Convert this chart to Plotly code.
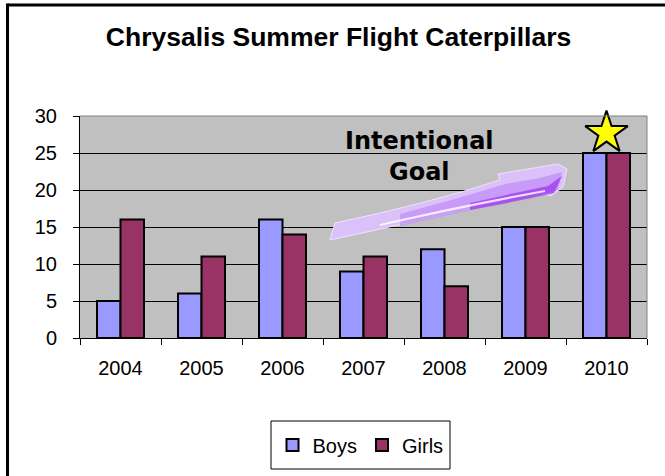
import plotly.graph_objects as go

categories = ["2004", "2005", "2006", "2007", "2008", "2009", "2010"]
boys = [5, 6, 16, 9, 12, 15, 25]
girls = [16, 11, 14, 11, 7, 15, 25]
y_ticks = [0, 5, 10, 15, 20, 25, 30]

W, H = 665, 476
L, R, T, B = 80, 18, 116, 138
PW, PH = W - L - R, H - T - B


def px(x):
    return (x - L) / PW


def py(y):
    return (H - B - y) / PH


def path(points):
    s = ""
    for cmd, pts in points:
        s += cmd + " ".join(f"{px(a):.4f},{py(b):.4f}" for a, b in pts) + " "
    return s + "Z"


FONT = "Liberation Sans, Arial, sans-serif"

fig = go.Figure()
fig.add_trace(go.Bar(x=categories, y=boys, name="Boys",
                     marker=dict(color="#9999ff", line=dict(color="black", width=2))))
fig.add_trace(go.Bar(x=categories, y=girls, name="Girls",
                     marker=dict(color="#993366", line=dict(color="black", width=2))))
# star above the goal year
fig.add_trace(go.Scatter(x=[categories[-1]], y=[boys[-1] + 2.7], mode="markers",
                         showlegend=False, hoverinfo="skip", cliponaxis=False,
                         marker=dict(symbol="star", size=32, color="#ffff00",
                                     line=dict(color="black", width=2))))

arrow = path([
    ("M", [(335, 223)]),
    ("Q", [(430, 203), (500, 180)]),
    ("L", [(498, 174)]),
    ("L", [(558, 164)]),
    ("L", [(567, 169)]),
    ("L", [(563, 187)]),
    ("L", [(551, 196)]),
    ("L", [(540, 192)]),
    ("Q", [(450, 214), (330, 240)]),
])
arrow_mid = path([
    ("M", [(400, 214)]),
    ("Q", [(460, 198), (505, 184)]),
    ("L", [(540, 178)]),
    ("L", [(562, 172)]),
    ("L", [(558, 190)]),
    ("L", [(545, 193)]),
    ("Q", [(470, 210), (400, 226)]),
])
arrow_hi = path([
    ("M", [(470, 203)]),
    ("Q", [(510, 194), (548, 186)]),
    ("L", [(562, 176)]),
    ("L", [(554, 193)]),
    ("Q", [(510, 203), (470, 210)]),
])
arrow_glint = path([
    ("M", [(380, 224)]),
    ("Q", [(460, 205), (545, 190)]),
    ("L", [(545, 192)]),
    ("Q", [(460, 208), (380, 226)]),
])

shapes = [
    dict(type="path", xref="paper", yref="paper", path=arrow,
         fillcolor="#dcc0fa", line=dict(color="#efe4fd", width=1), layer="above"),
    dict(type="path", xref="paper", yref="paper", path=arrow_mid,
         fillcolor="#c18cf6", line=dict(width=0), opacity=0.7, layer="above"),
    dict(type="path", xref="paper", yref="paper", path=arrow_hi,
         fillcolor="#9b30f0", line=dict(width=0), opacity=0.7, layer="above"),
    dict(type="path", xref="paper", yref="paper", path=arrow_glint,
         fillcolor="#ffffff", line=dict(width=0), opacity=0.8, layer="above"),
    # plot area border (top / right)
    dict(type="line", xref="paper", yref="paper", x0=0, x1=1, y0=1, y1=1,
         line=dict(color="#808080", width=1), layer="above"),
    dict(type="line", xref="paper", yref="paper", x0=1, x1=1, y0=0, y1=1,
         line=dict(color="#808080", width=1), layer="above"),
    # legend box
    dict(type="rect", xref="paper", yref="paper", x0=px(271), x1=px(450),
         y0=py(469), y1=py(421), line=dict(color="black", width=1), layer="above"),
    # outer chart border (left/top)
    dict(type="line", xref="paper", yref="paper", x0=px(7.5), x1=px(W),
         y0=py(5), y1=py(5), line=dict(color="black", width=3), layer="above"),
    dict(type="line", xref="paper", yref="paper", x0=px(7.5), x1=px(7.5),
         y0=py(3.5), y1=py(H), line=dict(color="black", width=3), layer="above"),
]

fig.update_layout(
    width=W, height=H,
    margin=dict(l=L, r=R, t=T, b=B, autoexpand=False),
    paper_bgcolor="white", plot_bgcolor="#c0c0c0",
    barmode="group", bargap=0.42, bargroupgap=0,
    font=dict(family=FONT, size=20, color="black"),
    title=dict(text="<b>Chrysalis Summer Flight Caterpillars</b>",
               font=dict(family=FONT, size=26.5, color="black"),
               x=338.5 / W, xanchor="center", xref="container",
               y=1 - 37 / H, yanchor="middle", yref="container"),
    xaxis=dict(type="category", range=[-0.5, len(categories) - 0.5],
               tickson="boundaries", ticks="outside", ticklen=6,
               tickcolor="black", showline=True, linecolor="black", linewidth=1,
               showgrid=False, ticklabelstandoff=12, automargin=False,
               tickfont=dict(family=FONT, size=20)),
    yaxis=dict(range=[0, 30], tickvals=y_ticks, ticks="outside", ticklen=6,
               tickcolor="black", showline=True, linecolor="black", linewidth=1,
               showgrid=True, gridcolor="black", gridwidth=1, zeroline=False,
               ticklabelstandoff=12, automargin=False,
               tickfont=dict(family=FONT, size=20)),
    legend=dict(orientation="h", x=px(360.5), xanchor="center",
                y=py(445), yanchor="middle", borderwidth=0,
                bgcolor="rgba(0,0,0,0)", font=dict(family=FONT, size=20),
                itemwidth=30, tracegroupgap=0),
    shapes=shapes,
    annotations=[dict(text="<b>Intentional<br>Goal</b>", xref="paper", yref="paper",
                      x=px(419), y=py(156), xanchor="center", yanchor="middle",
                      showarrow=False, align="center",
                      font=dict(family="DejaVu Sans", size=24, color="black"))],
)

fig.write_html(
    "out.html", config={"displayModeBar": False},
    post_script="document.body.style.margin='0';"
                "document.body.style.overflow='hidden';"
                "document.documentElement.style.overflow='hidden';")
